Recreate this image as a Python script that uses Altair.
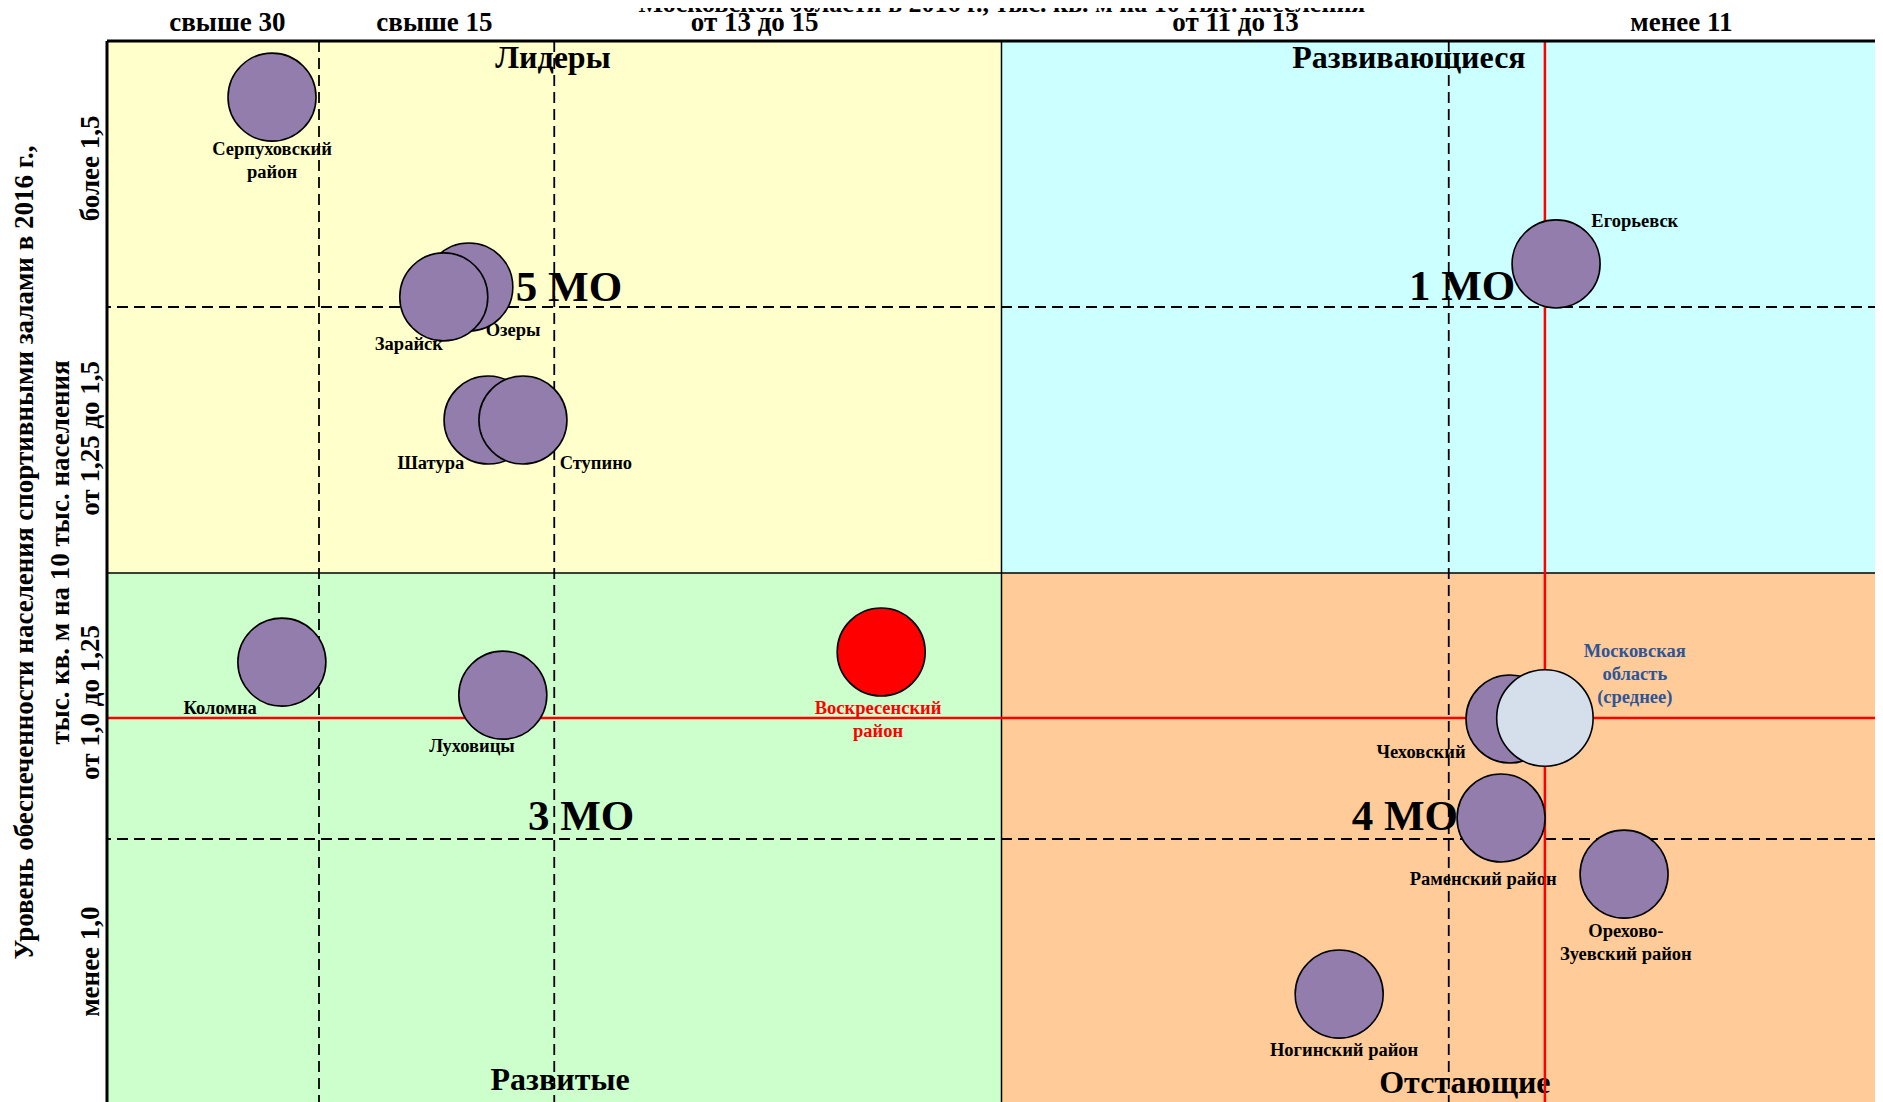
import altair as alt
import pandas as pd

# ---------------- data ----------------
# positions are in "class units": each of the 4 main columns / rows = 1 unit
names = ["Серпуховский район", "Озеры", "Зарайск", "Шатура", "Ступино", "Коломна",
         "Луховицы", "Воскресенский район", "Егорьевск", "Чеховский",
         "Московская область (среднее)", "Раменский район",
         "Орехово-Зуевский район", "Ногинский район"]
bx = [0.369, 0.809, 0.753, 0.852, 0.930, 0.391, 0.885, 1.731, 3.240, 3.137, 3.215,
      3.117, 3.392, 2.755]
by = [3.789, 3.075, 3.038, 2.575, 2.575, 1.665, 1.541, 1.703, 3.162, 1.451, 1.455,
      1.079, 0.868, 0.417]
bval = [1, 1, 1, 1, 1, 1, 1, 1, 1, 1, 1.2, 1, 1, 1]
bgroup = ["МО", "МО", "МО", "МО", "МО", "МО", "МО", "Воскресенский", "МО", "МО",
          "Область", "МО", "МО", "МО"]

label_text = ["Серпуховский\nрайон", "Озеры", "Зарайск", "Шатура", "Ступино", "Коломна",
              "Луховицы", "Воскресенский\nрайон", "Егорьевск", "Чеховский",
              "Московская\nобласть\n(среднее)", "Раменский район",
              "Орехово-\nЗуевский район", "Ногинский район"]
label_x = [0.369, 0.908, 0.675, 0.724, 1.093, 0.253, 0.816, 1.724, 3.416, 2.938, 3.416,
           3.077, 3.396, 2.766]
label_y = [3.594, 2.914, 2.861, 2.414, 2.414, 1.492, 1.350, 1.492, 3.323, 1.327, 1.707,
           0.850, 0.654, 0.207]

quad_names = ["Лидеры", "Развивающиеся", "Развитые", "Отстающие"]
quad_x = [0, 2, 0, 2]
quad_x2 = [2, 4, 2, 4]
quad_y = [2, 2, 0, 0]
quad_y2 = [4, 4, 2, 2]
quad_colors = ["#FFFFCC", "#CCFFFF", "#CCFFCC", "#FFCC99"]
quad_lx = [0.997, 2.911, 1.013, 3.036]
quad_ly = [3.936, 3.936, 0.094, 0.083]

mo_text = ["5 МО", "1 МО", "3 МО", "4 МО"]
mo_x = [1.033, 3.030, 1.060, 2.902]
mo_y = [3.071, 3.075, 1.083, 1.083]

dash_x = [0.474, 1, 3]
dash_y = [1, 3]
solid_x = [2]
solid_y = [2]
border_x = [0]
border_y = [4]

x_cats = ["свыше 30", "свыше 15", "от 13 до 15", "от 11 до 13", "менее 11"]
x_pos = [0.268, 0.731, 1.447, 2.522, 3.519]
y_cats = ["более 1,5", "от 1,25 до 1,5", "от 1,0 до 1,25", "менее 1,0"]
y_pos = [3.523, 2.508, 1.515, 0.541]

x_title = "Московской области в 2016 г., тыс. кв. м на 10 тыс. населения"
y_title = ["Уровень обеспеченности населения спортивными залами в 2016 г.,",
           "тыс. кв. м на 10 тыс. населения"]

# ---------------- chart ----------------
FONT = "Liberation Serif"
W, H = 1789, 1064

bubbles = pd.DataFrame({"name": names, "x": bx, "y": by, "v": bval, "g": bgroup})
labels = pd.DataFrame({"t": label_text, "x": label_x, "y": label_y, "g": bgroup})
quads = pd.DataFrame({"q": quad_names, "x": quad_x, "x2": quad_x2, "y": quad_y,
                      "y2": quad_y2, "c": quad_colors, "lx": quad_lx, "ly": quad_ly})
mos = pd.DataFrame({"t": mo_text, "x": mo_x, "y": mo_y})

xs = alt.Scale(domain=[0, 4], nice=False, zero=False)
ys = alt.Scale(domain=[0, 4], nice=False, zero=False)


def lookup_expr(cats, pos):
    arr_c = "[" + ",".join("'" + c + "'" for c in cats) + "]"
    arr_p = "[" + ",".join(str(p) for p in pos) + "]"
    return arr_c + "[indexof(" + arr_p + ", datum.value)]"


x_axis = alt.Axis(orient="top", values=x_pos, labelExpr=lookup_expr(x_cats, x_pos),
                  ticks=False, tickSize=0, domain=False, grid=False,
                  labelFont=FONT, labelFontSize=27, labelFontWeight="bold",
                  labelColor="black", labelBaseline="alphabetic", labelPadding=11,
                  labelFlush=False, labelOverlap=False, labelBound=False,
                  title=x_title, titleFont=FONT, titleFontSize=26,
                  titleFontWeight="bold", titleColor="black",
                  titleBaseline="alphabetic", titleY=-30)
y_axis = alt.Axis(orient="left", values=y_pos, labelExpr=lookup_expr(y_cats, y_pos),
                  ticks=False, tickSize=0, domain=False, grid=False,
                  labelFont=FONT, labelFontSize=27, labelFontWeight="bold",
                  labelColor="black", labelAngle=270, labelAlign="center",
                  labelBaseline="middle", labelPadding=17,
                  labelFlush=False, labelOverlap=False, labelBound=False,
                  title=y_title, titleFont=FONT, titleFontSize=27,
                  titleFontWeight="bold", titleColor="black", titleAngle=270,
                  titleAlign="center", titleBaseline="middle", titleLineHeight=36,
                  titleX=-83, titleY=511)


def X(field):
    return alt.X(field, scale=xs, axis=x_axis)


def Y(field):
    return alt.Y(field, scale=ys, axis=y_axis)


rects = alt.Chart(quads).mark_rect(strokeWidth=0).encode(
    x=X("x:Q"), x2="x2:Q", y=Y("y:Q"), y2="y2:Q",
    color=alt.Color("c:N", scale=None),
)

quad_txt = alt.Chart(quads).mark_text(font=FONT, fontSize=32, fontWeight="bold",
                                      color="black", baseline="middle").encode(
    x=X("lx:Q"), y=Y("ly:Q"), text="q:N",
)

mo_txt = alt.Chart(mos).mark_text(font=FONT, fontSize=43, fontWeight="bold",
                                  color="black", baseline="middle").encode(
    x=X("x:Q"), y=Y("y:Q"), text="t:N",
)

lab = alt.Chart(labels).mark_text(font=FONT, fontSize=18.5, fontWeight="bold",
                                  baseline="middle", align="center",
                                  lineBreak="\n", lineHeight=23).encode(
    x=X("x:Q"), y=Y("y:Q"), text="t:N",
    color=alt.Color("g:N", scale=alt.Scale(domain=["МО", "Воскресенский", "Область"],
                                           range=["#000000", "#FF0000", "#2E5597"]),
                    legend=None),
)

dash_v = alt.Chart(pd.DataFrame({"x": dash_x})).mark_rule(
    color="black", strokeWidth=1.8, strokeDash=[11, 6]).encode(x=X("x:Q"))
dash_h = alt.Chart(pd.DataFrame({"y": dash_y})).mark_rule(
    color="black", strokeWidth=1.8, strokeDash=[11, 6]).encode(y=Y("y:Q"))
solid_v = alt.Chart(pd.DataFrame({"x": solid_x})).mark_rule(
    color="black", strokeWidth=1.5).encode(x=X("x:Q"))
solid_h = alt.Chart(pd.DataFrame({"y": solid_y})).mark_rule(
    color="black", strokeWidth=1.5).encode(y=Y("y:Q"))
border_v = alt.Chart(pd.DataFrame({"x": border_x})).mark_rule(
    color="black", strokeWidth=3).encode(x=X("x:Q"))
border_h = alt.Chart(pd.DataFrame({"y": border_y})).mark_rule(
    color="black", strokeWidth=3).encode(y=Y("y:Q"))

region = bubbles[bubbles["g"] == "Область"]
red_v = alt.Chart(region).mark_rule(color="#FF0000", strokeWidth=2.5).encode(
    x=X("x:Q"))
red_h = alt.Chart(region).mark_rule(color="#FF0000", strokeWidth=2.5).encode(
    y=Y("y:Q"))

circles = alt.Chart(bubbles).mark_circle(opacity=1, stroke="black",
                                         strokeWidth=1.6).encode(
    x=X("x:Q"), y=Y("y:Q"),
    size=alt.Size("v:Q", scale=alt.Scale(domain=[0, 1.2], range=[0, 9300]),
                  legend=None),
    color=alt.Color("g:N", scale=alt.Scale(domain=["МО", "Воскресенский", "Область"],
                                           range=["#937DAC", "#FF0000", "#D5DFEC"]),
                    legend=None),
    order=alt.Order("idx:Q"),
).transform_window(idx="row_number()")

chart = alt.layer(
    rects, quad_txt, mo_txt, lab, dash_v, dash_h, solid_v, solid_h,
    red_v, red_h, circles, border_v, border_h,
).resolve_scale(color="independent").properties(
    width=W, height=H,
    autosize=alt.AutoSizeParams(type="none"),
    padding={"left": 99, "top": 33, "right": -21, "bottom": -3},
    background="white",
).configure_view(stroke=None)

chart.save("out.html", embed_options={"renderer": "svg", "actions": False})
